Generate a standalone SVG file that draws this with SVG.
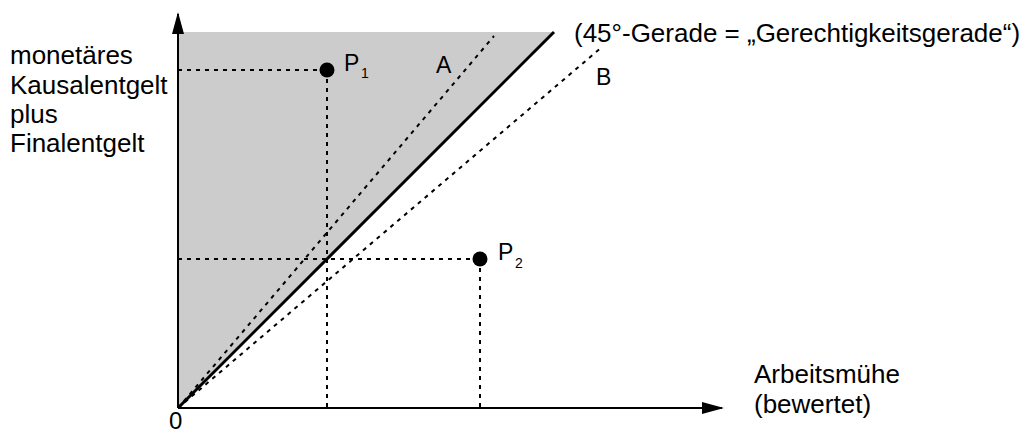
<svg xmlns="http://www.w3.org/2000/svg" width="1032" height="432" viewBox="0 0 1032 432">
<style>
text{font-family:"Liberation Sans",Arial,sans-serif;fill:#000}
.lbl{font-size:26px}
.sub{font-size:14px}
.dot{stroke:#000;stroke-width:2;stroke-dasharray:4,5;fill:none}
.ax{stroke:#000;stroke-width:2;fill:none}
</style>
<defs>
<marker id="arr" markerWidth="22" markerHeight="12" refX="20" refY="6" orient="auto" markerUnits="userSpaceOnUse">
<path d="M0,0 L22,6 L0,12 Z" fill="#000"/>
</marker>
</defs>
<rect width="1032" height="432" fill="#fff"/>
<g id="area">
<polygon points="178,408 178,32 554,32" fill="#cccccc"/>
</g>
<g id="connectors">
<line class="dot" x1="178" y1="70" x2="327" y2="70"/>
<line class="dot" x1="327" y1="70" x2="327" y2="408"/>
<line class="dot" x1="178" y1="259" x2="480" y2="259"/>
<line class="dot" x1="480" y1="259" x2="480" y2="408"/>
<line id="lineA" class="dot" x1="178" y1="408" x2="494" y2="36"/>
<line id="lineB" class="dot" x1="178" y1="408" x2="602" y2="47"/>
<line id="line45" x1="178" y1="408" x2="554" y2="32" stroke="#000" stroke-width="3"/>
<line id="yaxis" class="ax" x1="178" y1="408" x2="178" y2="14" marker-end="url(#arr)"/>
<line id="xaxis" class="ax" x1="178" y1="408" x2="722" y2="408" marker-end="url(#arr)"/>
</g>
<g id="P1">
<circle cx="327" cy="70" r="7.5" fill="#000"/>
<text class="lbl" x="344" y="71" style="font-size:23px">P</text>
<text class="sub" x="361" y="78">1</text>
</g>
<g id="P2">
<circle cx="480" cy="259" r="7.5" fill="#000"/>
<text class="lbl" x="498" y="260" style="font-size:23px">P</text>
<text class="sub" x="515" y="268">2</text>
</g>
<g id="labelA"><text class="lbl" x="436" y="73" style="font-size:23px">A</text></g>
<g id="labelB"><text class="lbl" x="596" y="85" style="font-size:23px">B</text></g>
<g id="title"><text class="lbl" x="574" y="42">(45°-Gerade = „Gerechtigkeitsgerade“)</text></g>
<g id="ylabel">
<text class="lbl" x="10" y="64">monetäres</text>
<text class="lbl" x="10" y="94">Kausalentgelt</text>
<text class="lbl" x="10" y="123">plus</text>
<text class="lbl" x="10" y="152">Finalentgelt</text>
</g>
<g id="xlabel">
<text class="lbl" x="754" y="383">Arbeitsmühe</text>
<text class="lbl" x="754" y="413">(bewertet)</text>
</g>
<g id="origin"><text class="lbl" x="169" y="429" style="font-size:24px">0</text></g>
</svg>
